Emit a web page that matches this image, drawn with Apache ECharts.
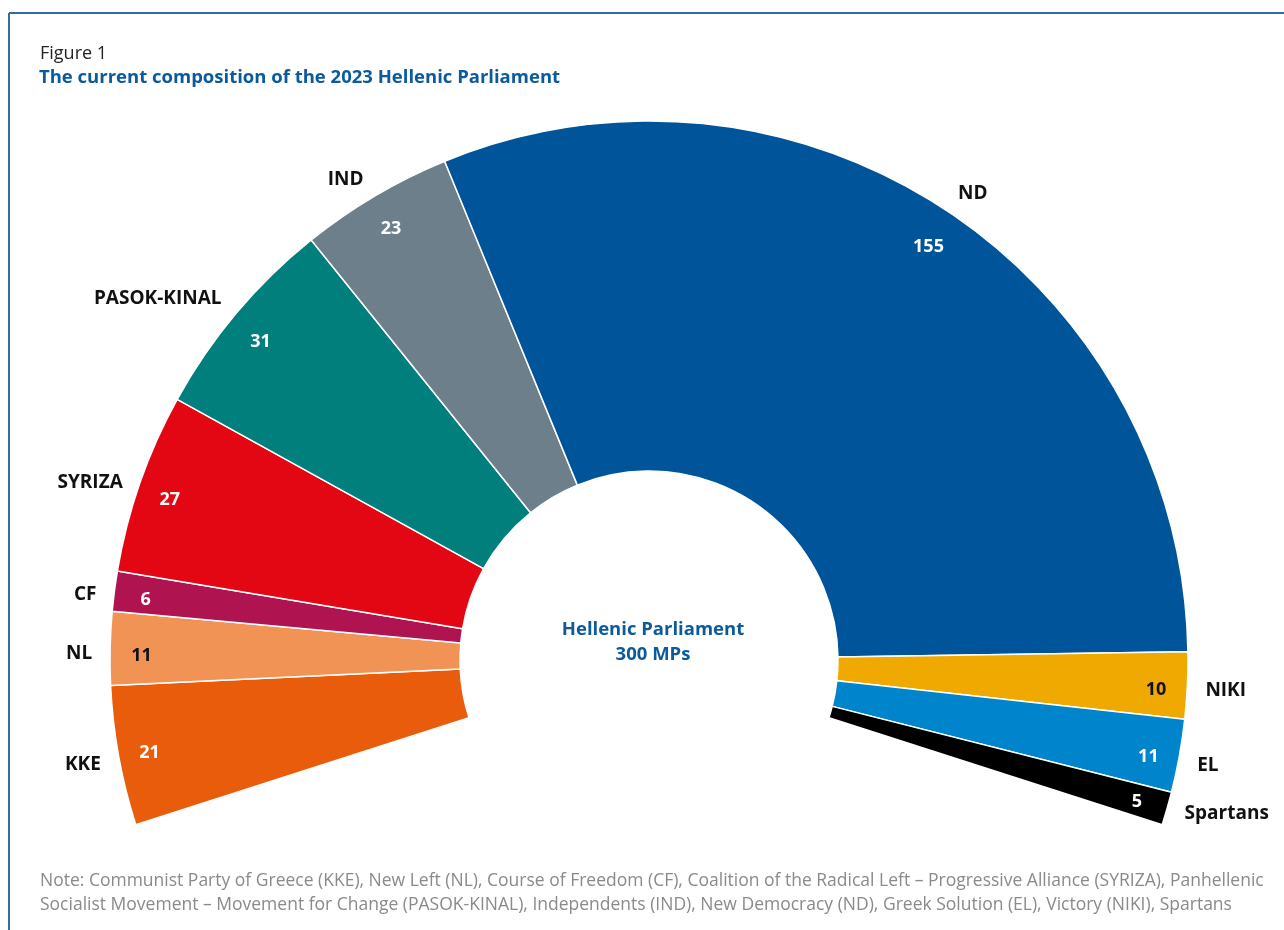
<!DOCTYPE html>
<html>
<head>
<meta charset="utf-8">
<script src="https://cdn.jsdelivr.net/npm/echarts@6/dist/echarts.min.js"></script>
<style>
html,body{margin:0;padding:0;background:#fff;}
#chart{width:1284px;height:930px;}
</style>
</head>
<body>
<div id="chart"></div>
<script>
// Data
const parties = ['KKE','NL','CF','SYRIZA','PASOK-KINAL','IND','ND','NIKI','EL','Spartans'];
const seats = [21, 11, 6, 27, 31, 23, 155, 10, 11, 5];
const totalLabel = ['Hellenic Parliament', '300 MPs'];
const noteLines = [
  'Note: Communist Party of Greece (KKE), New Left (NL), Course of Freedom (CF), Coalition of the Radical Left \u2013 Progressive Alliance (SYRIZA), Panhellenic',
  'Socialist Movement \u2013 Movement for Change (PASOK-KINAL), Independents (IND), New Democracy (ND), Greek Solution (EL), Victory (NIKI), Spartans'
];

// Styles
const colors = ['#E95C0C','#F29356','#B01450','#E30613','#007F7C','#6D7F8B','#00559A','#F0A900','#0085CC','#000000'];
const darkValueLabel = ['NL','NIKI'];
// small vertical nudges (px) of label text, per party order
const nameNudge = [6, 6, 5, 4, -6, -5, -6, 5, 7, 1];
const valueNudge = [3, 7, 5, 7, 8, 6, 10, 6, 7, 2];

function nudged(text, s) {
  if (!s) return '{t|' + text + '}';
  return s > 0 ? '{g| }\n{t|' + text + '}' : '{t|' + text + '}\n{g| }';
}
function nudgeRich(textStyle, s) {
  const h = Math.max(1, 2 * Math.abs(s));
  return { t: textStyle, g: { fontSize: 1, height: h, lineHeight: h } };
}

const nameStyle = { fontFamily: 'Open Sans', fontWeight: 'bold', fontSize: 19, color: '#111', lineHeight: 24 };

const chart = echarts.init(document.getElementById('chart'));
const ringData = parties.map((p, i) => ({
  name: p, value: seats[i],
  itemStyle: { color: colors[i] },
  label: {
    formatter: nudged(p, nameNudge[i]),
    rich: nudgeRich(nameStyle, nameNudge[i])
  }
}));
const labelData = parties.map((p, i) => {
  const vs = { fontFamily: 'Open Sans', fontWeight: 'bold', fontSize: 18, lineHeight: 22,
               color: darkValueLabel.includes(p) ? '#111' : '#fff' };
  return {
    name: p, value: seats[i],
    label: {
      formatter: nudged(String(seats[i]), valueNudge[i]),
      rich: nudgeRich(vs, valueNudge[i])
    }
  };
});

const CX = 649, CY = 660;
const START = 197.8, END = -17.8;

chart.setOption({
  animation: false,
  graphic: [
    { type: 'line', shape: { x1: 9, y1: 13, x2: 1284, y2: 13 }, style: { stroke: '#2F6CA8', lineWidth: 2 } },
    { type: 'line', shape: { x1: 9, y1: 13, x2: 9, y2: 930 }, style: { stroke: '#2F6CA8', lineWidth: 2 } },
    { type: 'text', left: 40, top: 45, style: { text: 'Figure 1', font: '18px "Open Sans"', fill: '#222' } },
    { type: 'text', left: 39, top: 68, style: { text: 'The current composition of the 2023 Hellenic Parliament', font: 'bold 18.5px "Open Sans"', fill: '#0B5A9E' } },
    { type: 'text', x: CX + 4, y: CY - 43, style: { text: totalLabel.join('\n'), font: 'bold 18.5px "Open Sans"', fill: '#0B5A9E', align: 'center', lineHeight: 25 } },
    { type: 'text', left: 40, top: 869, style: { text: noteLines.join('\n'), font: '17.5px "Open Sans"', fill: '#8a8a8a', lineHeight: 24 } }
  ],
  series: [
    {
      type: 'pie',
      center: [CX, CY],
      radius: [189, 539],
      startAngle: START,
      endAngle: END,
      clockwise: true,
      avoidLabelOverlap: false,
      silent: true,
      itemStyle: { borderColor: '#fff', borderWidth: 1.5 },
      label: {
        show: true,
        position: 'outside',
        distanceToLabelLine: 5
      },
      labelLine: { show: false, length: 13, length2: 0 },
      data: ringData
    },
    {
      type: 'pie',
      center: [CX, CY],
      radius: [470, 539],
      startAngle: START,
      endAngle: END,
      clockwise: true,
      avoidLabelOverlap: false,
      silent: true,
      itemStyle: { color: 'rgba(0,0,0,0)', borderWidth: 0 },
      label: {
        show: true,
        position: 'inside'
      },
      labelLine: { show: false },
      data: labelData
    }
  ]
});
</script>
</body>
</html>
